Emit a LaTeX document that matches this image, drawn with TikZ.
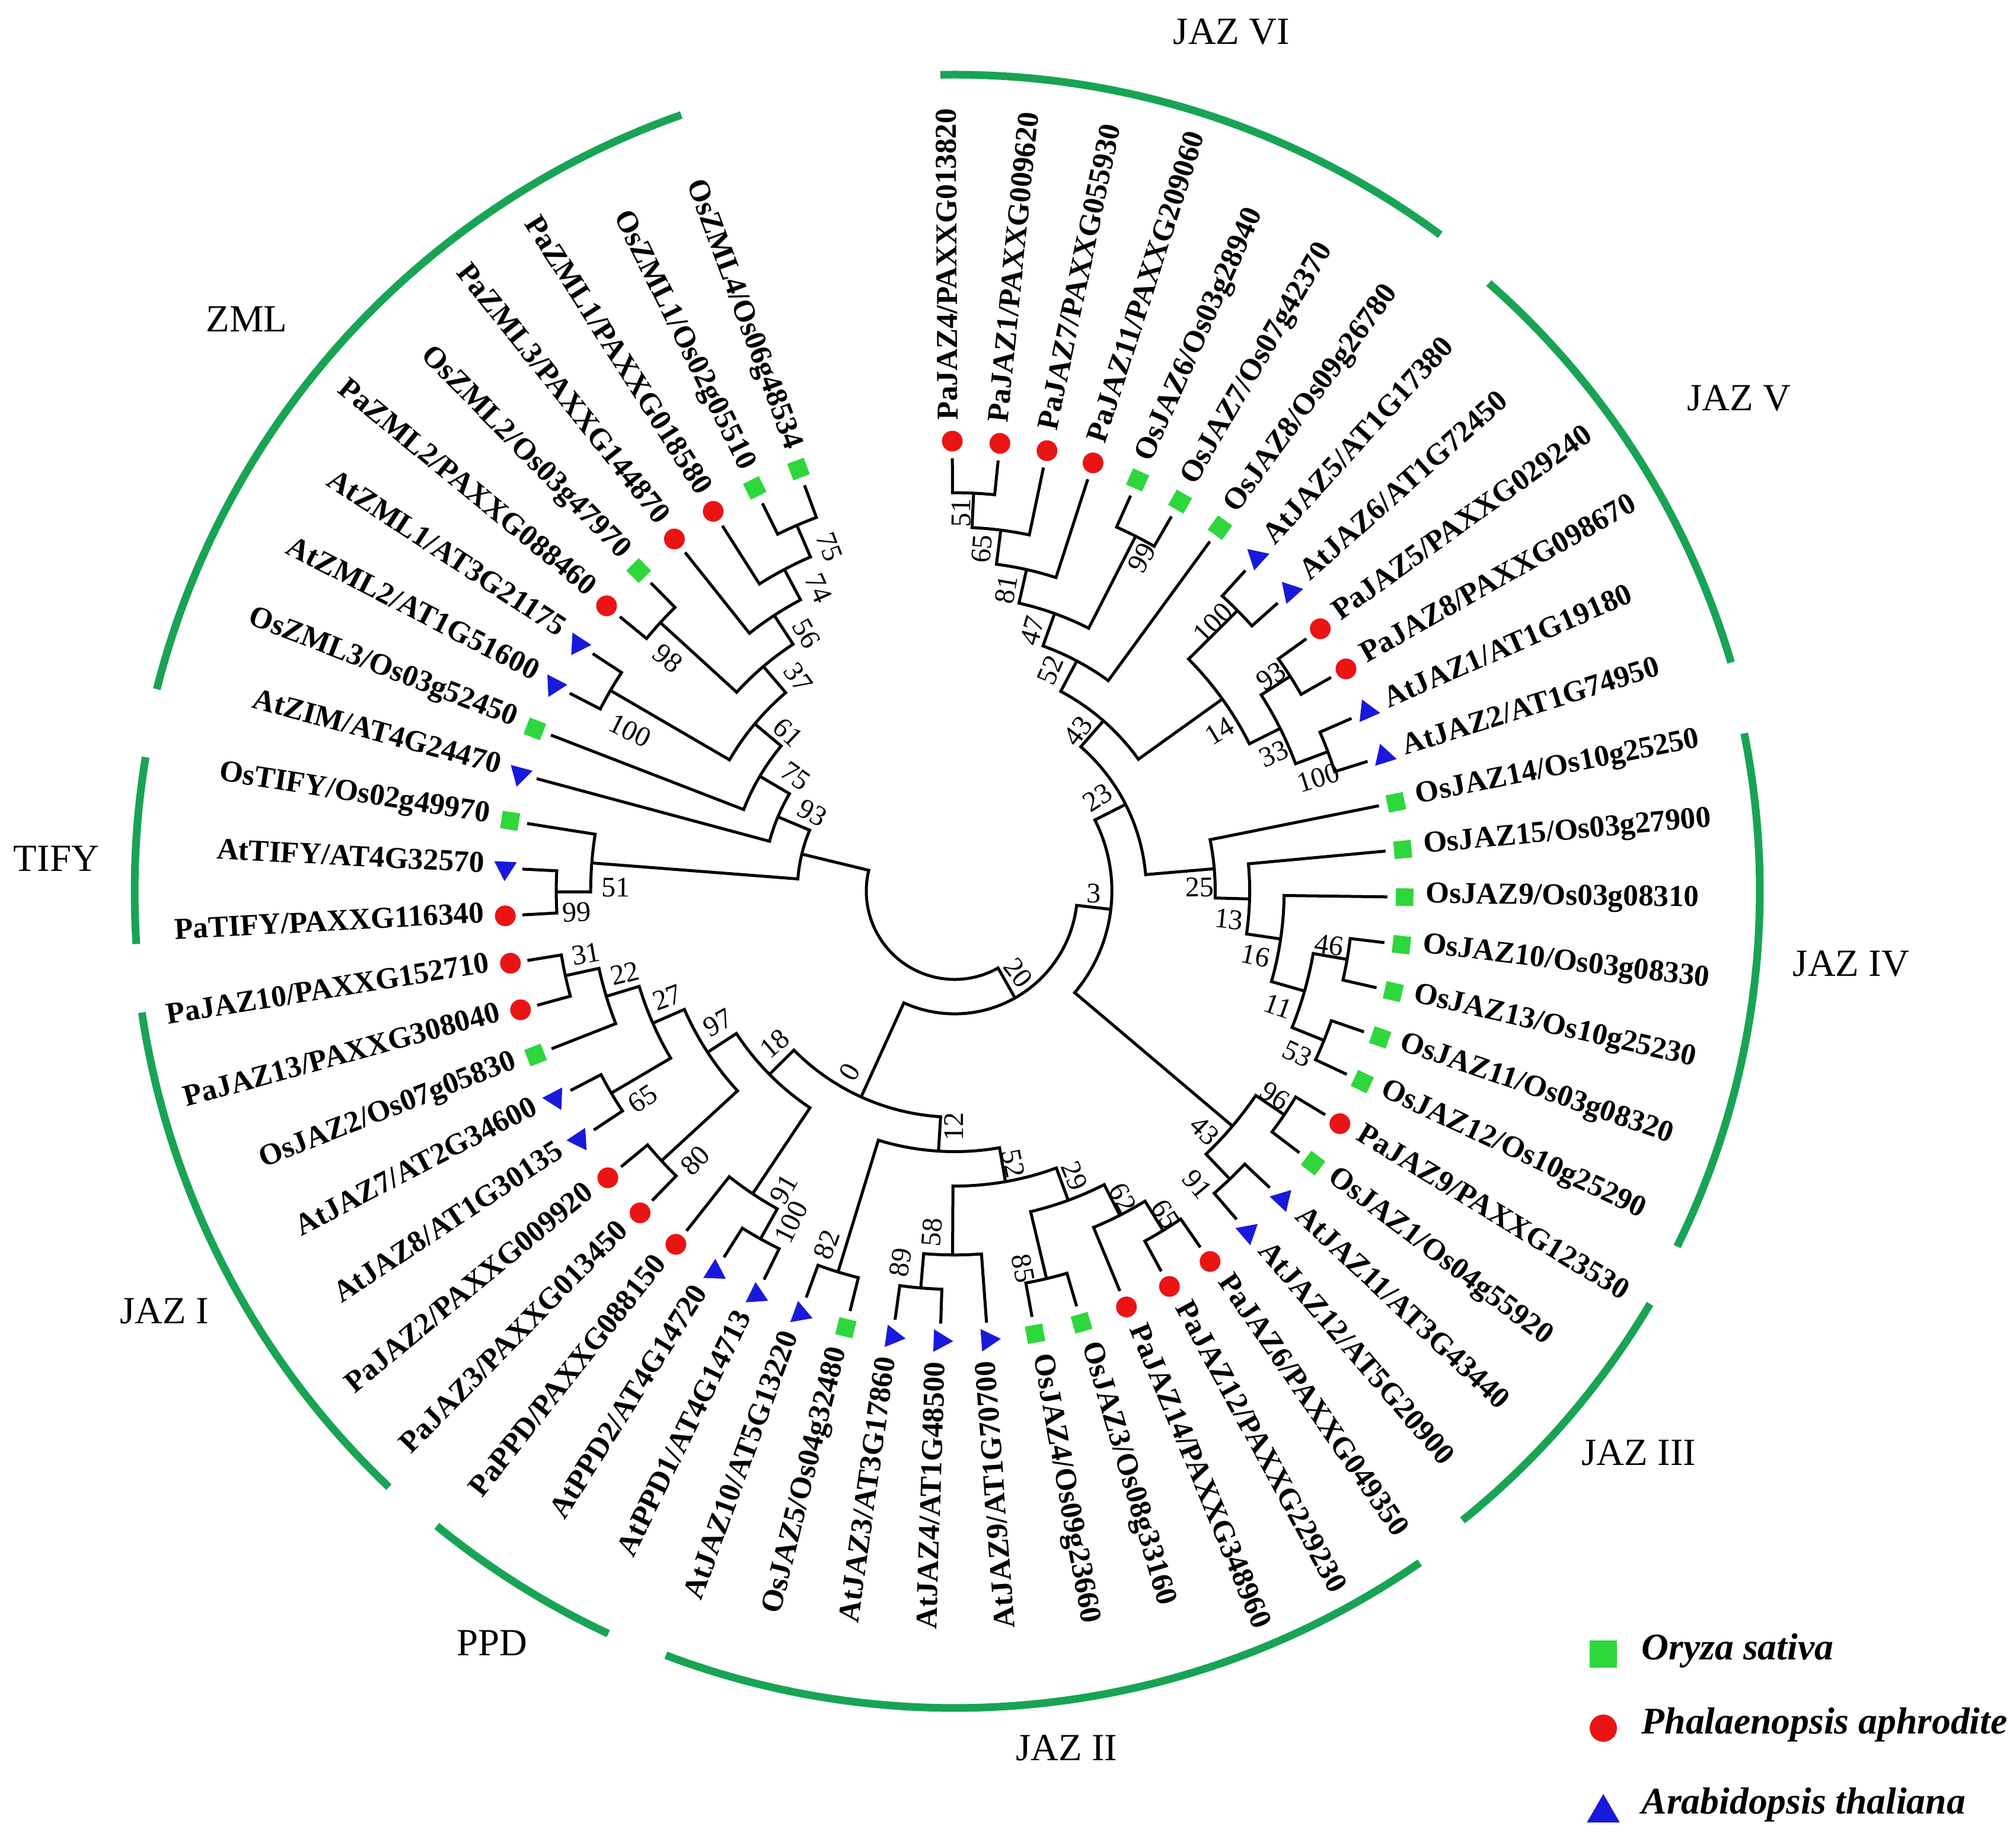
\documentclass[tikz,border=0pt]{standalone}
\usepackage{fontspec}
\setmainfont{Liberation Serif}
\usetikzlibrary{shapes.geometric}
\definecolor{cladegreen}{RGB}{24,164,84}
\definecolor{osgreen}{RGB}{45,215,60}
\definecolor{pared}{RGB}{235,20,20}
\definecolor{atblue}{RGB}{25,25,220}
% radii of the depth levels (pt)
\def\RRa{37.25pt}
\def\RRb{51.775pt}
\def\RRc{66.3pt}
\def\RRd{80.825pt}
\def\RRe{95.35pt}
\def\RRf{109.875pt}
\def\RRg{124.4pt}
\def\RRh{138.925pt}
\def\RRi{153.45pt}
\def\RRj{167.975pt}
\def\RRk{182.5pt}
% leaf: name, angle, marker style, text
\newcommand\leaf[4]{%
  \coordinate (#1) at (#2:\RRk);
  \node[#3, rotate=#2] (#1m) at (#2:189.75pt) {};
  \ifdim #2pt<-83pt
    \node[lbl, rotate=#2+180, anchor=mid east] (#1t) at (#2:198.5pt) {#4};
  \else
    \node[lbl, rotate=#2, anchor=mid west] (#1t) at (#2:198.5pt) {#4};
  \fi}
% internal node: name, radius, angle, child1, angle1, child2, angle2
\newcommand\inode[7]{%
  \coordinate (#1) at (#3:#2);
  \draw[br] (#4) -- (#5:#2) arc[start angle=#5, end angle=#7, radius=#2] -- (#6);}
% bootstrap value: name, angle, radius, text
\newcommand\bsv[4]{%
  \ifdim #2pt<-83pt
    \node[bsl, rotate=#2+180] (#1) at (#2:#3) {#4};
  \else
    \node[bsl, rotate=#2] (#1) at (#2:#3) {#4};
  \fi}
\begin{document}
\begin{tikzpicture}[
  br/.style={line width=1.25pt, black},
  sqm/.style={rectangle, fill=osgreen, minimum size=7.4pt, inner sep=0pt},
  cim/.style={circle, fill=pared, minimum size=8.75pt, inner sep=0pt},
  trm/.style={regular polygon, regular polygon sides=3, fill=atblue, minimum size=11pt, inner sep=0pt},
  lbl/.style={font=\fontsize{12.8}{14}\selectfont\bfseries, inner sep=0pt},
  bsl/.style={font=\fontsize{12}{13}\selectfont, inner sep=0pt},
  clade/.style={font=\fontsize{16.2}{18}\selectfont, inner sep=0pt},
  cladearc/.style={line width=3.25pt, cladegreen},
  legtxt/.style={font=\fontsize{15.9}{18}\selectfont\bfseries\itshape, inner sep=0pt}
]
\useasboundingbox (-402.5pt,-400.75pt) rectangle (447.5pt,375.75pt);

% ---------- leaves ----------
\leaf{L0}{90.300}{cim}{PaJAZ4/PAXXG013820}
\leaf{L1}{84.229}{cim}{PaJAZ1/PAXXG009620}
\leaf{L2}{78.157}{cim}{PaJAZ7/PAXXG055930}
\leaf{L3}{72.086}{cim}{PaJAZ11/PAXXG209060}
\leaf{L4}{66.014}{sqm}{OsJAZ6/Os03g28940}
\leaf{L5}{59.943}{sqm}{OsJAZ7/Os07g42370}
\leaf{L6}{53.871}{sqm}{OsJAZ8/Os09g26780}
\leaf{L7}{47.800}{trm}{AtJAZ5/AT1G17380}
\leaf{L8}{41.729}{trm}{AtJAZ6/AT1G72450}
\leaf{L9}{35.657}{cim}{PaJAZ5/PAXXG029240}
\leaf{L10}{29.586}{cim}{PaJAZ8/PAXXG098670}
\leaf{L11}{23.514}{trm}{AtJAZ1/AT1G19180}
\leaf{L12}{17.443}{trm}{AtJAZ2/AT1G74950}
\leaf{L13}{11.371}{sqm}{OsJAZ14/Os10g25250}
\leaf{L14}{5.300}{sqm}{OsJAZ15/Os03g27900}
\leaf{L15}{-0.771}{sqm}{OsJAZ9/Os03g08310}
\leaf{L16}{-6.843}{sqm}{OsJAZ10/Os03g08330}
\leaf{L17}{-12.914}{sqm}{OsJAZ13/Os10g25230}
\leaf{L18}{-18.986}{sqm}{OsJAZ11/Os03g08320}
\leaf{L19}{-25.057}{sqm}{OsJAZ12/Os10g25290}
\leaf{L20}{-31.129}{cim}{PaJAZ9/PAXXG123530}
\leaf{L21}{-37.200}{sqm}{OsJAZ1/Os04g55920}
\leaf{L22}{-43.271}{trm}{AtJAZ11/AT3G43440}
\leaf{L23}{-49.343}{trm}{AtJAZ12/AT5G20900}
\leaf{L24}{-55.414}{cim}{PaJAZ6/PAXXG049350}
\leaf{L25}{-61.486}{cim}{PaJAZ12/PAXXG229230}
\leaf{L26}{-67.557}{cim}{PaJAZ14/PAXXG348960}
\leaf{L27}{-73.629}{sqm}{OsJAZ3/Os08g33160}
\leaf{L28}{-79.700}{sqm}{OsJAZ4/Os09g23660}
\leaf{L29}{-85.771}{trm}{AtJAZ9/AT1G70700}
\leaf{L30}{-91.843}{trm}{AtJAZ4/AT1G48500}
\leaf{L31}{-97.914}{trm}{AtJAZ3/AT3G17860}
\leaf{L32}{-103.986}{sqm}{OsJAZ5/Os04g32480}
\leaf{L33}{-110.057}{trm}{AtJAZ10/AT5G13220}
\leaf{L34}{-116.129}{trm}{AtPPD1/AT4G14713}
\leaf{L35}{-122.200}{trm}{AtPPD2/AT4G14720}
\leaf{L36}{-128.271}{cim}{PaPPD/PAXXG088150}
\leaf{L37}{-134.343}{cim}{PaJAZ3/PAXXG013450}
\leaf{L38}{-140.414}{cim}{PaJAZ2/PAXXG009920}
\leaf{L39}{-146.486}{trm}{AtJAZ8/AT1G30135}
\leaf{L40}{-152.557}{trm}{AtJAZ7/AT2G34600}
\leaf{L41}{-158.629}{sqm}{OsJAZ2/Os07g05830}
\leaf{L42}{-164.700}{cim}{PaJAZ13/PAXXG308040}
\leaf{L43}{-170.771}{cim}{PaJAZ10/PAXXG152710}
\leaf{L44}{-176.843}{cim}{PaTIFY/PAXXG116340}
\leaf{L45}{-182.914}{trm}{AtTIFY/AT4G32570}
\leaf{L46}{-188.986}{sqm}{OsTIFY/Os02g49970}
\leaf{L47}{-195.057}{trm}{AtZIM/AT4G24470}
\leaf{L48}{-201.129}{sqm}{OsZML3/Os03g52450}
\leaf{L49}{-207.200}{trm}{AtZML2/AT1G51600}
\leaf{L50}{-213.271}{trm}{AtZML1/AT3G21175}
\leaf{L51}{-219.343}{cim}{PaZML2/PAXXG088460}
\leaf{L52}{-225.414}{sqm}{OsZML2/Os03g47970}
\leaf{L53}{-231.486}{cim}{PaZML3/PAXXG144870}
\leaf{L54}{-237.557}{cim}{PaZML1/PAXXG018580}
\leaf{L55}{-243.629}{sqm}{OsZML1/Os02g05510}
\leaf{L56}{-249.700}{sqm}{OsZML4/Os06g48534}

% ---------- internal nodes ----------
\inode{nA51}{\RRj}{87.265}{L0}{90.300}{L1}{84.229}
\inode{nA65}{\RRi}{82.711}{nA51}{87.265}{L2}{78.157}
\inode{nA81}{\RRh}{77.399}{nA65}{82.711}{L3}{72.086}
\inode{nA99}{\RRj}{62.979}{L4}{66.014}{L5}{59.943}
\inode{nA47}{\RRg}{70.189}{nA81}{77.399}{nA99}{62.979}
\inode{nA52}{\RRf}{62.030}{nA47}{70.189}{L6}{53.871}
\inode{nB100}{\RRj}{44.765}{L7}{47.800}{L8}{41.729}
\inode{nB93}{\RRj}{32.622}{L9}{35.657}{L10}{29.586}
\inode{nB100b}{\RRj}{20.479}{L11}{23.514}{L12}{17.443}
\inode{nB33}{\RRi}{26.550}{nB93}{32.622}{nB100b}{20.479}
\inode{nB14}{\RRh}{35.657}{nB100}{44.765}{nB33}{26.550}
\inode{nA43}{\RRe}{48.844}{nA52}{62.030}{nB14}{35.657}
\inode{nC46}{\RRj}{-9.879}{L16}{-6.843}{L17}{-12.914}
\inode{nC53}{\RRj}{-22.022}{L18}{-18.986}{L19}{-25.057}
\inode{nC11}{\RRi}{-15.950}{nC46}{-9.879}{nC53}{-22.022}
\inode{nC16}{\RRh}{-8.361}{L15}{-0.771}{nC11}{-15.950}
\inode{nC13}{\RRg}{-1.530}{L14}{5.300}{nC16}{-8.361}
\inode{nC25}{\RRf}{4.920}{L13}{11.371}{nC13}{-1.530}
\inode{n23}{\RRd}{26.882}{nA43}{48.844}{nC25}{4.920}
\inode{nD96}{\RRj}{-34.165}{L20}{-31.129}{L21}{-37.200}
\inode{nD91}{\RRj}{-46.307}{L22}{-43.271}{L23}{-49.343}
\inode{nD43}{\RRi}{-40.236}{nD96}{-34.165}{nD91}{-46.307}
\inode{n3}{\RRc}{-6.677}{n23}{26.882}{nD43}{-40.236}
\inode{nE65}{\RRj}{-58.450}{L24}{-55.414}{L25}{-61.486}
\inode{nE62}{\RRi}{-63.004}{nE65}{-58.450}{L26}{-67.557}
\inode{nE85}{\RRj}{-76.665}{L27}{-73.629}{L28}{-79.700}
\inode{nE29}{\RRh}{-69.835}{nE62}{-63.004}{nE85}{-76.665}
\inode{nE89}{\RRj}{-94.879}{L30}{-91.843}{L31}{-97.914}
\inode{nE58}{\RRi}{-90.325}{L29}{-85.771}{nE89}{-94.879}
\inode{nE52}{\RRg}{-80.080}{nE29}{-69.835}{nE58}{-90.325}
\inode{nE82}{\RRj}{-107.022}{L32}{-103.986}{L33}{-110.057}
\inode{nE12}{\RRf}{-93.551}{nE52}{-80.080}{nE82}{-107.022}
\inode{nF100}{\RRj}{-119.165}{L34}{-116.129}{L35}{-122.200}
\inode{nF91}{\RRi}{-123.718}{nF100}{-119.165}{L36}{-128.271}
\inode{nG80}{\RRj}{-137.379}{L37}{-134.343}{L38}{-140.414}
\inode{nG65}{\RRj}{-149.522}{L39}{-146.486}{L40}{-152.557}
\inode{nG31}{\RRj}{-167.736}{L42}{-164.700}{L43}{-170.771}
\inode{nG22}{\RRi}{-163.183}{L41}{-158.629}{nG31}{-167.736}
\inode{nG27}{\RRh}{-156.353}{nG65}{-149.522}{nG22}{-163.183}
\inode{nG97}{\RRg}{-146.866}{nG80}{-137.379}{nG27}{-156.353}
\inode{n18}{\RRf}{-135.292}{nF91}{-123.718}{nG97}{-146.866}
\inode{n0}{\RRe}{-114.422}{nE12}{-93.551}{n18}{-135.292}
\inode{n20}{\RRb}{-60.550}{n3}{-6.677}{n0}{-114.422}
\inode{nH99}{\RRj}{-179.879}{L44}{-176.843}{L45}{-182.914}
\inode{nH51}{\RRi}{-184.433}{nH99}{-179.879}{L46}{-188.986}
\inode{nZ75a}{\RRj}{-246.665}{L55}{-243.629}{L56}{-249.700}
\inode{nZ74}{\RRi}{-242.111}{L54}{-237.557}{nZ75a}{-246.665}
\inode{nZ56}{\RRh}{-236.799}{L53}{-231.486}{nZ74}{-242.111}
\inode{nZ98}{\RRj}{-222.379}{L51}{-219.343}{L52}{-225.414}
\inode{nZ37}{\RRg}{-229.589}{nZ98}{-222.379}{nZ56}{-236.799}
\inode{nZ100}{\RRj}{-210.236}{L49}{-207.200}{L50}{-213.271}
\inode{nZ61}{\RRf}{-219.913}{nZ100}{-210.236}{nZ37}{-229.589}
\inode{nZ75b}{\RRe}{-210.521}{L48}{-201.129}{nZ61}{-219.913}
\inode{nZ93}{\RRd}{-202.789}{L47}{-195.057}{nZ75b}{-210.521}
\inode{nAA}{\RRc}{-193.611}{nH51}{-184.433}{nZ93}{-202.789}
\inode{root}{\RRa}{-127.080}{n20}{-60.550}{nAA}{-193.611}

% ---------- bootstrap values ----------
\bsv{b51a}{89.0}{159.5pt}{51}
\bsv{b65a}{85.5}{144.75pt}{65}
\bsv{b81}{80.3}{129pt}{81}
\bsv{b47}{73.4}{114.5pt}{47}
\bsv{b52}{66.6}{101.5pt}{52}
\bsv{b99a}{60.7}{161.25pt}{99}
\bsv{b43a}{52.5}{85.25pt}{43}
\bsv{b100a}{46.1}{157pt}{100}
\bsv{b14}{31.2}{130.5pt}{14}
\bsv{b93a}{34.2}{161.25pt}{93}
\bsv{b33}{23.3}{146.5pt}{33}
\bsv{b100b}{17.3}{160.5pt}{100}
\bsv{b23}{33.2}{72pt}{23}
\bsv{b25}{0.85}{103.25pt}{25}
\bsv{b13}{-5.9}{116.25pt}{13}
\bsv{b16}{-12.1}{129.75pt}{16}
\bsv{b11}{-19.6}{144.75pt}{11}
\bsv{b46}{-8.2}{159.5pt}{46}
\bsv{b53}{-25.4}{160pt}{53}
\bsv{b96}{-32.6}{160.25pt}{96}
\bsv{b43b}{-43.8}{146pt}{43}
\bsv{b91b}{-50.4}{160.5pt}{91}
\bsv{b65b}{-56.9}{162.75pt}{65}
\bsv{b62}{-61.3}{147.5pt}{62}
\bsv{b29}{-67.2}{130.25pt}{29}
\bsv{b52b}{-77.9}{117.5pt}{52}
\bsv{b85}{-79.7}{161.75pt}{85}
\bsv{b20}{-52.2}{43.75pt}{20}
\bsv{b3}{-1.0}{58.75pt}{3}
\bsv{b99t}{-176.8}{159.5pt}{99}
\bsv{b31}{-170.3}{157.75pt}{31}
\bsv{b22}{-166.0}{143.25pt}{22}
\bsv{b27}{-159.7}{129.25pt}{27}
\bsv{b97}{-150.9}{114.25pt}{97}
\bsv{b18}{-139.7}{99.5pt}{18}
\bsv{b0}{-120.1}{88.25pt}{0}
\bsv{b65c}{-146.3}{158pt}{65}
\bsv{b80}{-133.9}{157.75pt}{80}
\bsv{b91}{-119.8}{144.75pt}{91}
\bsv{b100c}{-116.3}{155.75pt}{100}
\bsv{b82}{-109.9}{158.5pt}{82}
\bsv{b89}{-98.3}{158.25pt}{89}
\bsv{b58}{-93.8}{144.25pt}{58}
\bsv{b12}{-90.2}{99.25pt}{12}
\bsv{b75a}{-250.0}{154.5pt}{75}
\bsv{b74}{-245.8}{140pt}{74}
\bsv{b56}{-240.1}{125.25pt}{56}
\bsv{b37}{-233.8}{111.5pt}{37}
\bsv{b61}{-223.6}{97pt}{61}
\bsv{b75b}{-215.8}{82.75pt}{75}
\bsv{b93}{-208.8}{68.5pt}{93}
\bsv{b98}{-219.1}{155.75pt}{98}
\bsv{b100z}{-206.3}{152.75pt}{100}
\bsv{b51t}{-180.6}{142.75pt}{51}

% ---------- clade arcs ----------
\draw[cladearc] (109.4:347pt) arc[start angle=109.4, end angle=165.8, radius=347pt];
\draw[cladearc] (170.6:345.75pt) arc[start angle=170.6, end angle=183.7, radius=345.75pt];
\draw[cladearc] (188.5:346.5pt) arc[start angle=188.5, end angle=226.5, radius=346.5pt];
\draw[cladearc] (230.8:345.5pt) arc[start angle=230.8, end angle=245.0, radius=345.5pt];
\draw[cladearc] (249.3:344.5pt) arc[start angle=249.3, end angle=304.7, radius=344.5pt];
\draw[cladearc] (-51.1:341pt) arc[start angle=-51.1, end angle=-30.7, radius=341pt];
\draw[cladearc] (-26.2:339.5pt) arc[start angle=-26.2, end angle=11.3, radius=339.5pt];
\draw[cladearc] (16.4:341.25pt) arc[start angle=16.4, end angle=48.7, radius=341.25pt];
\draw[cladearc] (53.5:344.25pt) arc[start angle=53.5, end angle=91.0, radius=344.25pt];

% ---------- clade names ----------
\node[clade] (cJAZVI) at (116.75pt,362.25pt) {JAZ VI};
\node[clade] (cZML) at (-298.5pt,241.25pt) {ZML};
\node[clade] (cJAZV) at (330.75pt,207.75pt) {JAZ V};
\node[clade] (cTIFY) at (-378.75pt,13.75pt) {TIFY};
\node[clade] (cJAZIV) at (378pt,-30.75pt) {JAZ IV};
\node[clade] (cJAZI) at (-333.25pt,-177pt) {JAZ I};
\node[clade] (cJAZIII) at (288.5pt,-236.75pt) {JAZ III};
\node[clade] (cPPD) at (-195pt,-317pt) {PPD};
\node[clade] (cJAZII) at (47.25pt,-361.25pt) {JAZ II};

% ---------- legend ----------
\node[sqm, minimum size=11.5pt] (legOs) at (273.5pt,-321.75pt) {};
\node[cim, minimum size=11.5pt] (legPa) at (273.5pt,-353pt) {};
\node[trm, minimum size=16pt] (legAt) at (273.5pt,-388.75pt) {};
\node[legtxt, anchor=mid west] (legOsT) at (289.5pt,-321.75pt) {Oryza sativa};
\node[legtxt, anchor=mid west] (legPaT) at (289.5pt,-353pt) {Phalaenopsis aphrodite};
\node[legtxt, anchor=mid west] (legAtT) at (289.5pt,-386.75pt) {Arabidopsis thaliana};
\end{tikzpicture}
\end{document}
